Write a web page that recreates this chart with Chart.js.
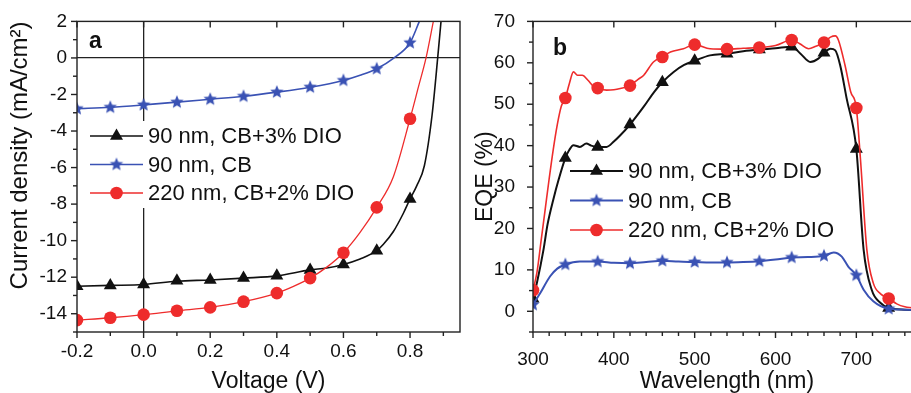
<!DOCTYPE html>
<html>
<head>
<meta charset="utf-8">
<script src="https://cdn.jsdelivr.net/npm/chart.js@4"></script>
<style>
  body { margin: 0; width: 911px; height: 393px; overflow: hidden; background: #fff; position: relative; }
  #jv { position: absolute; left: 0; top: 0; }
  #eqe { position: absolute; left: 460px; top: 0; }
</style>
</head>
<body>
<canvas id="jv" width="470" height="393"></canvas>
<canvas id="eqe" width="470" height="393"></canvas>
<script>
const FONT = "'Liberation Sans', Arial, Helvetica, sans-serif";
const BLACK = '#111111', BLUE = '#3a52b4', RED = '#ee2c2c';

const seriesNames = ['90 nm, CB+3% DIO', '90 nm, CB', '220 nm, CB+2% DIO'];

// ---- panel a: J-V ----
const jvMarkV = [-0.2, -0.1, 0, 0.1, 0.2, 0.3, 0.4, 0.5, 0.6, 0.7, 0.8];
const jvMarkDio3 = [-12.5, -12.45, -12.4, -12.2, -12.15, -12.05, -11.92, -11.6, -11.3, -10.55, -7.72];
const jvMarkCb = [-2.78, -2.7, -2.57, -2.42, -2.26, -2.1, -1.87, -1.6, -1.23, -0.59, 0.83];
const jvMarkDio2 = [-14.35, -14.22, -14.05, -13.84, -13.65, -13.34, -12.87, -12.05, -10.66, -8.18, -3.33];

const jvLineVDio3 = [-0.2, -0.1, 0, 0.1, 0.2, 0.3, 0.4, 0.5, 0.55, 0.6, 0.65, 0.7, 0.72, 0.75, 0.78, 0.8, 0.82, 0.843, 0.866, 0.883, 0.893];
const jvLineJDio3 = [-12.5, -12.45, -12.4, -12.22, -12.15, -12.05, -11.93, -11.6, -11.5, -11.3, -11.0, -10.55, -10.2, -9.5, -8.5, -7.72, -7.0, -5.9, -3.15, 0, 2];
const jvLineVCb = [-0.2, -0.1, 0, 0.1, 0.2, 0.3, 0.4, 0.5, 0.6, 0.65, 0.7, 0.75, 0.8, 0.828];
const jvLineJCb = [-2.78, -2.7, -2.57, -2.42, -2.26, -2.1, -1.87, -1.6, -1.23, -0.95, -0.59, -0.02, 0.83, 2];
const jvLineVDio2 = [-0.2, -0.1, 0, 0.1, 0.2, 0.3, 0.4, 0.45, 0.5, 0.55, 0.6, 0.65, 0.7, 0.75, 0.8, 0.825, 0.848, 0.87];
const jvLineJDio2 = [-14.35, -14.22, -14.05, -13.84, -13.65, -13.34, -12.87, -12.5, -12.05, -11.45, -10.66, -9.55, -8.18, -6.5, -3.33, -1.6, 0, 2];

// ---- panel b: EQE ----
const eqeMarkNm = [300, 340, 380, 420, 460, 500, 540, 580, 620, 660, 700, 740];
const eqeMarkDio3 = [3.0, 37.0, 39.7, 45.1, 55.3, 60.5, 62.2, 63.2, 63.9, 62.4, 39.2, 0.8];
const eqeMarkCb = [1.6, 11.3, 12.0, 11.6, 12.2, 11.9, 11.8, 12.1, 13.0, 13.4, 8.7, 0.6];
const eqeMarkDio2 = [5.1, 51.5, 53.9, 54.5, 61.4, 64.4, 63.3, 63.7, 65.5, 64.9, 49.1, 3.1];

const eqeLineNmDio3 = [300, 305, 313, 318, 325, 332, 340, 345, 350, 358, 366, 372, 380, 391, 400, 408, 420, 437, 450, 460, 474, 487, 500, 519, 540, 560, 580, 600, 620, 631, 643, 653, 660, 668, 674, 680, 688, 700, 709, 719, 730, 740, 760, 780];
const eqeLineDio3 = [3.0, 7, 14.9, 21, 26.9, 32, 37.0, 39, 40.1, 39.7, 40.5, 40, 39.7, 39.7, 41, 42.5, 45.1, 49.4, 53, 55.3, 57.8, 59.5, 60.5, 61.8, 62.2, 62.8, 63.2, 63.5, 63.9, 62.2, 60.2, 61, 62.4, 63.4, 63, 59.4, 51.4, 39.2, 14.9, 5.2, 2.0, 0.8, 0.4, 0.3];
const eqeLineNmCb = [300, 309, 321, 330, 340, 358, 380, 400, 420, 440, 460, 480, 500, 520, 540, 560, 580, 600, 620, 640, 660, 672, 682, 690, 700, 709, 721, 740, 760, 780];
const eqeLineCb = [1.6, 4.4, 8.4, 10.3, 11.3, 12.0, 12.0, 11.7, 11.6, 11.9, 12.2, 12.0, 11.9, 11.8, 11.8, 11.9, 12.1, 12.5, 13.0, 13.1, 13.4, 14.2, 13.2, 10.8, 8.7, 5.2, 2.4, 0.6, 0.4, 0.3];
const eqeLineNmDio2 = [300, 305, 310, 315, 320, 325, 330, 335, 340, 345, 350, 355, 361, 368, 375, 380, 391, 400, 408, 420, 430, 437, 449, 460, 470, 486, 500, 519, 540, 560, 580, 600, 620, 630, 641, 650, 660, 668, 674, 678, 686, 693, 700, 705, 713, 721, 730, 740, 750, 760, 780];
const eqeLineDio2 = [5.1, 9.5, 17, 24.5, 32, 39, 45, 49.5, 51.5, 55, 57.8, 57, 57, 55.8, 54.3, 53.9, 53.4, 53.5, 53.8, 54.5, 56, 57, 60.2, 61.4, 62.6, 63.4, 64.4, 63.4, 63.3, 63.5, 63.7, 64.2, 65.5, 64.6, 63.4, 64, 64.9, 66.2, 66.5, 65.4, 59.4, 53, 49.1, 37, 14.9, 6.8, 4.2, 3.1, 1.8, 1.1, 0.7];

// filled five-point star, Chart.js 'star' is only an asterisk
function makeStar(r, color) {
  const c = document.createElement('canvas');
  c.width = c.height = 2 * r + 2;
  const g = c.getContext('2d');
  g.beginPath();
  for (let i = 0; i < 10; i++) {
    const a = -Math.PI / 2 + i * Math.PI / 5;
    const rr = i % 2 ? r * 0.45 : r;
    g.lineTo(r + 1 + rr * Math.cos(a), r + 1 + rr * Math.sin(a));
  }
  g.closePath();
  g.fillStyle = color;
  g.fill();
  return c;
}
const starImg = makeStar(7, BLUE);

const pts = (xs, ys) => xs.map((x, i) => ({ x: x, y: ys[i] }));

function lineSet(xs, ys, color, w) {
  return { data: pts(xs, ys), showLine: true, borderColor: color, borderWidth: w, pointRadius: 0,
    cubicInterpolationMode: 'monotone', fill: false };
}
function markSet(xs, ys, color, style, r) {
  return { data: pts(xs, ys), showLine: false, pointStyle: style, pointRadius: r,
    backgroundColor: color, borderColor: color, borderWidth: 0 };
}

// legend, panel letter, frame and tick marks
const panelDeco = {
  id: 'panelDeco',
  afterDatasetsDraw(chart, args, o) {
    const ctx = chart.ctx;
    ctx.save();
    if (o.box) {
      ctx.fillStyle = '#fff';
      ctx.fillRect(o.box[0], o.box[1], o.box[2], o.box[3]);
    }
    o.items.forEach((it, i) => {
      const y = o.y0 + i * o.dy;
      ctx.strokeStyle = it.color;
      ctx.lineWidth = it.width;
      ctx.beginPath();
      ctx.moveTo(o.x0, y);
      ctx.lineTo(o.x0 + o.len, y);
      ctx.stroke();
      ctx.fillStyle = it.color;
      Chart.helpers.drawPoint(ctx, { pointStyle: it.style, radius: it.r, borderWidth: 0, rotation: 0 }, o.x0 + o.len / 2, y);
      ctx.fillStyle = BLACK;
      ctx.font = '22px ' + FONT;
      ctx.textBaseline = 'middle';
      ctx.fillText(it.text, o.textX, y + 1);
    });
    ctx.font = 'bold 23px ' + FONT;
    ctx.textBaseline = 'alphabetic';
    ctx.fillStyle = BLACK;
    ctx.fillText(o.tag, o.tagX, o.tagY);
    ctx.restore();
  },
  afterDraw(chart) {
    const ctx = chart.ctx, a = chart.chartArea;
    const xs = chart.scales.x, ys = chart.scales.y;
    ctx.save();
    ctx.strokeStyle = '#222';
    ctx.lineWidth = 1.4;
    ctx.strokeRect(a.left, a.top, a.right - a.left, a.bottom - a.top);
    const seg = (x1, y1, x2, y2) => { ctx.beginPath(); ctx.moveTo(x1, y1); ctx.lineTo(x2, y2); ctx.stroke(); };
    xs.ticks.forEach(t => {
      const p = xs.getPixelForValue(t.value);
      const major = t.label !== '';
      seg(p, a.bottom, p, a.bottom + (major ? 6 : 4));
      if (major) seg(p, a.top, p, a.top + 6);
    });
    ys.ticks.forEach(t => {
      const p = ys.getPixelForValue(t.value);
      const major = t.label !== '';
      seg(a.left - (major ? 6 : 4), p, a.left, p);
    });
    ctx.restore();
  }
};

const tickFont = { family: FONT, size: 19 };
const titleFont = { family: FONT, size: 23, lineHeight: 1 };

// panel a
new Chart(document.getElementById('jv'), {
  type: 'scatter',
  data: {
    datasets: [
      markSet(jvMarkV, jvMarkDio2, RED, 'circle', 6.3),
      lineSet(jvLineVDio2, jvLineJDio2, RED, 1.3),
      markSet(jvMarkV, jvMarkCb, BLUE, starImg, 7),
      lineSet(jvLineVCb, jvLineJCb, BLUE, 1.6),
      markSet(jvMarkV, jvMarkDio3, BLACK, 'triangle', 7.5),
      lineSet(jvLineVDio3, jvLineJDio3, BLACK, 1.6)
    ]
  },
  options: {
    responsive: false,
    animation: false,
    layout: { padding: { left: 0, top: 21, right: 10, bottom: 0 } },
    plugins: {
      legend: { display: false },
      tooltip: { enabled: false },
      panelDeco: {
        box: [84, 121, 272, 87],
        x0: 90, len: 53, y0: 136, dy: 28.5, textX: 148,
        tag: 'a', tagX: 89, tagY: 48,
        items: [
          { text: seriesNames[0], color: BLACK, width: 1.6, style: 'triangle', r: 7.5 },
          { text: seriesNames[1], color: BLUE, width: 1.6, style: starImg, r: 7 },
          { text: seriesNames[2], color: RED, width: 1.3, style: 'circle', r: 6.3 }
        ]
      }
    },
    scales: {
      x: {
        type: 'linear', min: -0.2, max: 0.95,
        afterFit: s => { s.height = 61; },
        grid: { drawTicks: false, drawOnChartArea: true, lineWidth: 1.3,
          color: c => (c.tick && Math.abs(c.tick.value) < 1e-9) ? '#222' : 'rgba(0,0,0,0)' },
        border: { display: false },
        ticks: { stepSize: 0.1, includeBounds: false, autoSkip: false, maxRotation: 0, font: tickFont, color: BLACK, padding: 8,
          callback: v => (Math.round(v * 10) % 2 === 0 ? v.toFixed(1) : '') },
        title: { display: true, text: 'Voltage (V)', font: titleFont, color: BLACK, padding: { top: 0, bottom: 0 } }
      },
      y: {
        min: -15, max: 2,
        afterFit: s => { s.width = 77; },
        grid: { drawTicks: false, drawOnChartArea: true, lineWidth: 1.3,
          color: c => (c.tick && c.tick.value === 0) ? '#222' : 'rgba(0,0,0,0)' },
        border: { display: false },
        ticks: { stepSize: 1, autoSkip: false, font: tickFont, color: BLACK, padding: 10,
          callback: v => (v % 2 === 0 ? String(v) : '') },
        title: { display: true, text: 'Current density (mA/cm²)', align: 'end', font: { family: FONT, size: 24, lineHeight: 1 },
          color: BLACK, padding: { top: 8, bottom: 0 } }
      }
    }
  },
  plugins: [panelDeco]
});

// panel b
new Chart(document.getElementById('eqe'), {
  type: 'scatter',
  data: {
    datasets: [
      markSet(eqeMarkNm, eqeMarkDio2, RED, 'circle', 6.3),
      lineSet(eqeLineNmDio2, eqeLineDio2, RED, 1.6),
      markSet(eqeMarkNm, eqeMarkCb, BLUE, starImg, 7),
      lineSet(eqeLineNmCb, eqeLineCb, BLUE, 2),
      markSet(eqeMarkNm, eqeMarkDio3, BLACK, 'triangle', 7.5),
      lineSet(eqeLineNmDio3, eqeLineDio3, BLACK, 2)
    ]
  },
  options: {
    responsive: false,
    animation: false,
    layout: { padding: { left: 0, top: 21, right: 9, bottom: 0 } },
    plugins: {
      legend: { display: false },
      tooltip: { enabled: false },
      panelDeco: {
        box: null,
        x0: 110, len: 53, y0: 171, dy: 29.5, textX: 168,
        tag: 'b', tagX: 93, tagY: 55,
        items: [
          { text: seriesNames[0], color: BLACK, width: 2, style: 'triangle', r: 7.5 },
          { text: seriesNames[1], color: BLUE, width: 2, style: starImg, r: 7 },
          { text: seriesNames[2], color: RED, width: 1.6, style: 'circle', r: 6.3 }
        ]
      }
    },
    scales: {
      x: {
        type: 'linear', min: 300, max: 780,
        afterFit: s => { s.height = 61; },
        grid: { display: false },
        border: { display: false },
        ticks: { stepSize: 20, autoSkip: false, maxRotation: 0, font: tickFont, color: BLACK, padding: 8,
          callback: v => (v % 100 === 0 ? String(v) : '') },
        title: { display: true, text: 'Wavelength (nm)', font: titleFont, color: BLACK, padding: { top: 0, bottom: 0 } }
      },
      y: {
        min: -5, max: 70,
        afterFit: s => { s.width = 73; },
        grid: { display: false },
        border: { display: false },
        ticks: { stepSize: 5, autoSkip: false, font: tickFont, color: BLACK, padding: 10,
          callback: v => (v % 10 === 0 ? String(v) : '') },
        title: { display: true, text: 'EQE (%)', font: titleFont, color: BLACK, padding: { top: 14, bottom: 0 } }
      }
    }
  },
  plugins: [panelDeco]
});
</script>
</body>
</html>
